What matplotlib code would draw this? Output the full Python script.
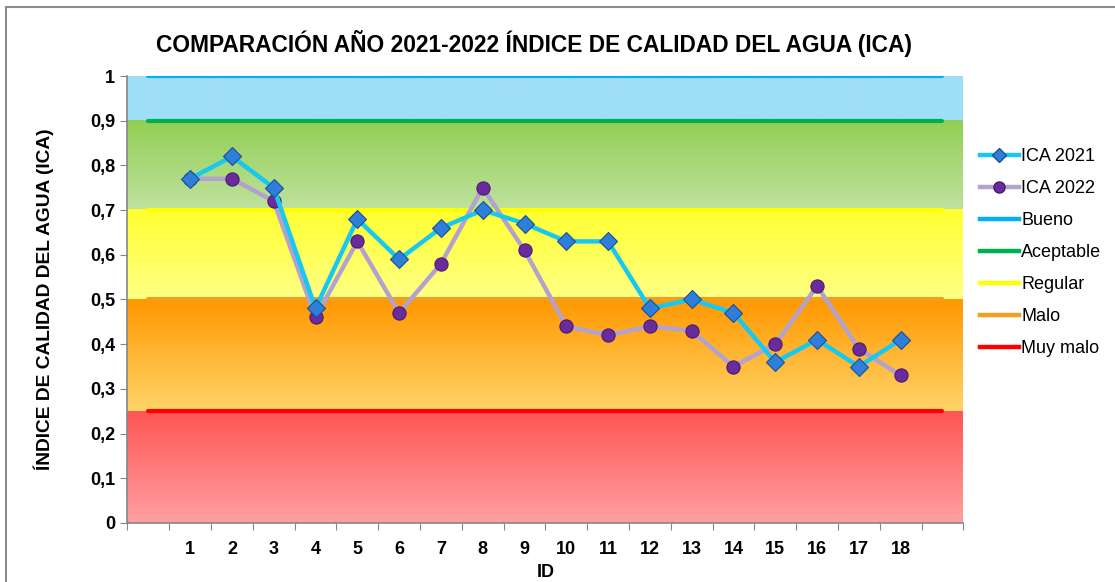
import numpy as np
import matplotlib.pyplot as plt
from matplotlib.colors import LinearSegmentedColormap
from matplotlib.lines import Line2D

plt.rcParams['font.family'] = ['Liberation Sans', 'DejaVu Sans']

ids = list(range(1, 19))
ica_2021 = [0.77, 0.82, 0.75, 0.48, 0.68, 0.59, 0.66, 0.70, 0.67,
            0.63, 0.63, 0.48, 0.50, 0.47, 0.36, 0.41, 0.35, 0.41]
ica_2022 = [0.77, 0.77, 0.72, 0.46, 0.63, 0.47, 0.58, 0.75, 0.61,
            0.44, 0.42, 0.44, 0.43, 0.35, 0.40, 0.53, 0.39, 0.33]

# quality classes: name, threshold line, band below it
classes = ['Bueno', 'Aceptable', 'Regular', 'Malo', 'Muy malo']
thresholds = [1.0, 0.9, 0.7, 0.5, 0.25]
band_edges = [1.0, 0.9, 0.7, 0.5, 0.25, 0.0]
line_colors = ['#00B0F0', '#00B050', '#FFFF00', '#F0A020', '#FF0000']
band_colors = [('#9EDFF7', '#9EDFF7'),   # (top, bottom)
               ('#92CF55', '#BFE29E'),
               ('#FFFF30', '#FFFF85'),
               ('#FF9800', '#FFD468'),
               ('#FF5555', '#FFA0A0')]

fig = plt.figure(figsize=(11.15, 5.82), dpi=100)
ax = fig.add_axes([0.1143, 0.1014, 0.7497, 0.768])

n_cat = 20  # empty slot before 1 and after 18
xmin, xmax = -0.5, n_cat - 0.5

for i, (top, bot) in enumerate(band_colors):
    cmap = LinearSegmentedColormap.from_list('b%d' % i, [bot, top])
    grad = np.linspace(0, 1, 100).reshape(-1, 1)
    ax.imshow(grad, cmap=cmap, origin='lower', aspect='auto',
              extent=[xmin, xmax, band_edges[i + 1], band_edges[i]], zorder=0)

xs = list(range(n_cat))
for name, v, c in zip(classes, thresholds, line_colors):
    ax.plot(xs, [v] * n_cat, color=c, lw=3.0, solid_capstyle='round', zorder=2)

ax.plot(ids, ica_2021, color='#19C8F0', lw=3.2, marker='D', ms=9,
        mfc='#2F7FD8', mec='#1A4F9A', mew=0.8, zorder=4)
ax.plot(ids, ica_2022, color='#B3A2CE', lw=3.2, marker='o', ms=9.5,
        mfc='#6A2C9C', mec='#4A1A70', mew=0.8, zorder=3)

ax.set_xlim(xmin, xmax)
ax.set_ylim(0, 1)

ax.set_xticks(np.arange(xmin, xmax + 0.01, 1))
ax.set_xticklabels([])
ax.set_xticks(ids, minor=True)
ax.set_xticklabels([str(i) for i in ids], minor=True, fontsize=13, fontweight='bold')
ax.tick_params(axis='x', which='major', length=5, color='#868686', direction='out')
ax.tick_params(axis='x', which='minor', length=0, pad=13)

yt = np.round(np.arange(0, 1.01, 0.1), 1)
ax.set_yticks(yt)
ax.set_yticklabels(['0' if v == 0 else '1' if v == 1 else ('%.1f' % v).replace('.', ',') for v in yt],
                   fontsize=13, fontweight='bold')
ax.tick_params(axis='y', length=5, color='#868686', direction='out', pad=4)

for s in ['top', 'right']:
    ax.spines[s].set_visible(False)
for s in ['left', 'bottom']:
    ax.spines[s].set_color('#868686')
    ax.spines[s].set_linewidth(1.2)

ax.set_xlabel('ID', fontsize=13, fontweight='bold', labelpad=4)
ax.set_ylabel('ÍNDICE DE CALIDAD DEL AGUA (ICA)', fontsize=13.8, fontweight='bold', labelpad=26)
fig.text(0.479, 0.926, 'COMPARACIÓN AÑO 2021-2022 ÍNDICE DE CALIDAD DEL AGUA (ICA)',
         ha='center', va='center', fontsize=16.4, fontweight='bold')

handles = [Line2D([], [], color='#19C8F0', lw=3.2, marker='D', ms=7,
                  mfc='#2F7FD8', mec='#1A4F9A'),
           Line2D([], [], color='#B3A2CE', lw=3.2, marker='o', ms=8,
                  mfc='#6A2C9C', mec='#4A1A70')]
handles += [Line2D([], [], color=c, lw=3.2) for c in line_colors]
labels = ['ICA 2021', 'ICA 2022'] + classes
fig.legend(handles, labels, loc='upper left', bbox_to_anchor=(0.872, 0.758),
           frameon=False, fontsize=13, handlelength=2.2, handletextpad=0.1,
           labelspacing=0.83, borderaxespad=0)

# outer chart frame (cropped on right and bottom)
fig.add_artist(Line2D([6 / 1115, 6 / 1115], [0, 1 - 7 / 582], color='#8C8C8C', lw=1.5,
                      transform=fig.transFigure))
fig.add_artist(Line2D([6 / 1115, 1], [1 - 7 / 582, 1 - 7 / 582], color='#8C8C8C', lw=1.5,
                      transform=fig.transFigure))

fig.savefig('out.png', dpi=100)
